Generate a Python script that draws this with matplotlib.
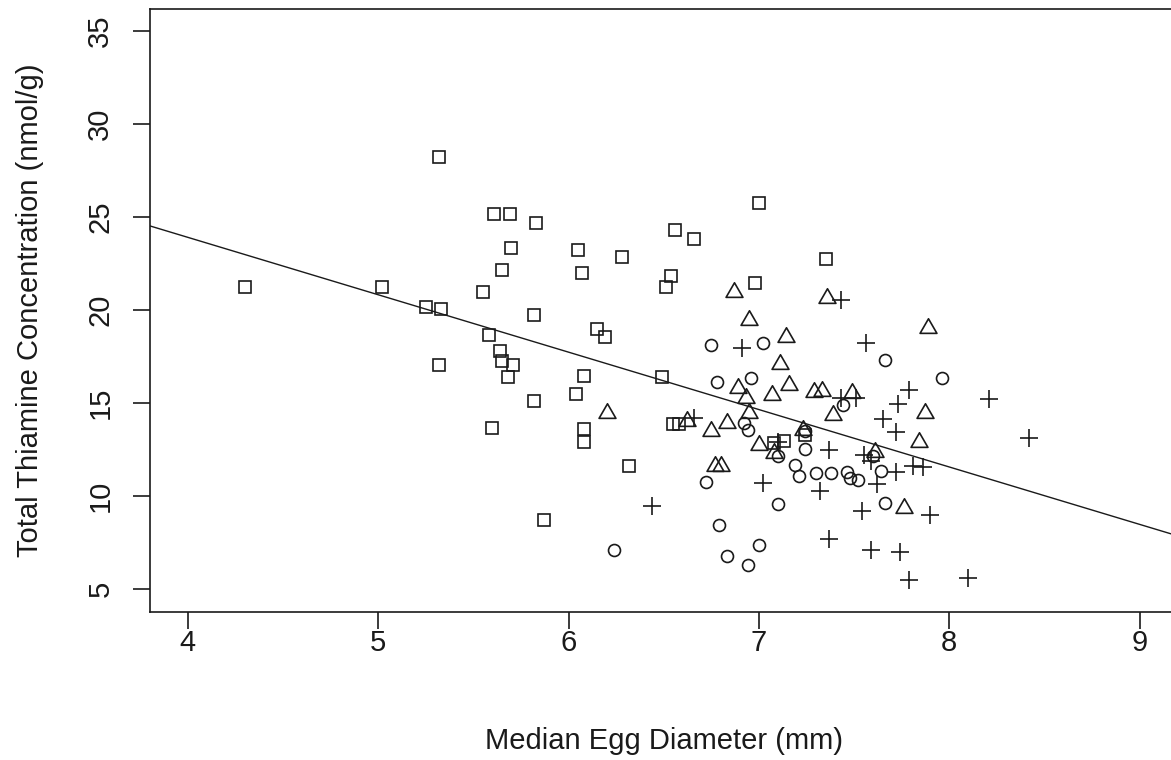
import matplotlib
matplotlib.use("Agg")
import matplotlib.pyplot as plt
from matplotlib.path import Path

# ---------------- data ----------------
sq_x = [4.30, 5.02, 5.25, 5.33, 5.32, 5.32, 5.55, 5.61, 5.69, 5.83, 5.70, 5.65,
        6.05, 6.07, 6.28, 5.82, 6.15, 6.19, 5.58, 5.64, 5.65, 5.71, 5.68, 6.08,
        6.04, 5.82, 5.60, 6.08, 6.08, 6.32, 5.87, 6.56, 6.66, 6.54, 6.51, 6.49,
        6.55, 6.58, 7.00, 6.98, 7.35, 7.08, 7.13, 7.24]
sq_y = [21.25, 21.25, 20.16, 20.06, 28.20, 17.06, 20.95, 25.18, 25.18, 24.68, 23.33, 22.13,
        23.24, 22.02, 22.84, 19.75, 18.98, 18.58, 18.68, 17.82, 17.29, 17.06, 16.38, 16.47,
        15.49, 15.09, 13.69, 13.62, 12.91, 11.65, 8.73, 24.32, 23.82, 21.85, 21.25, 16.38,
        13.89, 13.89, 25.75, 21.45, 22.74, 12.87, 12.95, 13.30]

ci_x = [6.75, 7.02, 7.66, 7.96, 6.78, 6.96, 7.44, 6.92, 6.94, 7.24, 7.24, 7.10,
        7.19, 7.21, 7.30, 7.38, 7.46, 7.48, 7.52, 7.60, 7.64, 6.72, 7.10, 7.66,
        6.79, 7.00, 6.83, 6.94, 6.24]
ci_y = [18.11, 18.22, 17.33, 16.35, 16.13, 16.35, 14.91, 13.96, 13.57, 13.48, 12.53, 12.17,
        11.69, 11.06, 11.24, 11.24, 11.29, 10.98, 10.85, 12.14, 11.37, 10.74, 9.58, 9.66,
        8.47, 7.39, 6.80, 6.30, 7.12]

tr_x = [6.20, 6.87, 7.36, 6.95, 7.14, 7.89, 7.11, 6.89, 6.93, 6.95, 7.16, 7.07,
        7.29, 7.33, 7.49, 7.39, 7.87, 6.83, 6.75, 6.62, 7.23, 7.84, 7.00, 7.08,
        6.77, 6.80, 7.61, 7.76]
tr_y = [14.47, 20.96, 20.65, 19.45, 18.57, 19.05, 17.09, 15.81, 15.27, 14.47, 15.96, 15.45,
        15.59, 15.67, 15.54, 14.38, 14.47, 13.96, 13.53, 14.05, 13.57, 12.90, 12.76, 12.32,
        11.64, 11.64, 12.40, 9.36]

pl_x = [6.44, 6.66, 6.91, 7.43, 7.56, 7.79, 7.73, 8.21, 8.42, 7.43, 7.51, 7.65,
        7.72, 7.37, 7.55, 7.59, 7.72, 7.81, 7.86, 7.62, 7.02, 7.32, 7.54, 7.90,
        7.37, 7.59, 7.74, 7.79, 8.10, 7.10]
pl_y = [9.49, 14.20, 17.96, 20.56, 18.21, 15.72, 14.94, 15.22, 13.12, 15.27, 15.27, 14.16,
        13.45, 12.50, 12.23, 11.90, 11.29, 11.60, 11.58, 10.65, 10.69, 10.29, 9.18, 8.97,
        7.70, 7.11, 7.00, 5.49, 5.60, 12.93]

fit_intercept = 36.25
fit_slope = -3.085

x_ticks = [4, 5, 6, 7, 8, 9]
y_ticks = [5, 10, 15, 20, 25, 30, 35]
x_label = "Median Egg Diameter (mm)"
y_label = "Total Thiamine Concentration (nmol/g)"

# ---------------- figure ----------------
plt.rcParams['font.family'] = ['Liberation Sans', 'DejaVu Sans']
W, H = 1171, 760
fig = plt.figure(figsize=(W / 100, H / 100), dpi=100)

left_px, right_px, top_px, bot_px = 149.7, 1177.8, 8.6, 611.6
ax = fig.add_axes([left_px / W, 1 - bot_px / H, (right_px - left_px) / W, (bot_px - top_px) / H])
ax.set_xlim(3.8, 9.2)
ax.set_ylim(3.8, 36.2)

ink = '#1a1a1a'
mew = 1.2
tri = Path([(0, 1.5551), (1.3468, -0.7776), (-1.3468, -0.7776), (0, 1.5551)], closed=True)

ax.plot(sq_x, sq_y, linestyle='none', marker='s', ms=8.8, mfc='none', mec=ink, mew=mew)
ax.plot(ci_x, ci_y, linestyle='none', marker='o', ms=8.6, mfc='none', mec=ink, mew=mew)
ax.plot(tr_x, tr_y, linestyle='none', marker=tri, ms=14.0, mfc='none', mec=ink, mew=mew)
ax.plot(pl_x, pl_y, linestyle='none', marker='+', ms=13.2, mec=ink, mew=mew)

ax.axline((0, fit_intercept), slope=fit_slope, color=ink, lw=1.0)

for s in ['left', 'bottom', 'top', 'right']:
    ax.spines[s].set_linewidth(1.2)
    ax.spines[s].set_color(ink)

ax.set_xticks(x_ticks)
ax.set_xticklabels([str(t) for t in x_ticks])
ax.set_yticks(y_ticks)
ax.set_yticklabels([str(t) for t in y_ticks], rotation=90, va='center')
ax.tick_params(axis='both', direction='out', length=12.5, width=1.2, color=ink,
               labelsize=21, labelcolor=ink)
ax.tick_params(axis='x', pad=0)
ax.tick_params(axis='y', pad=13)

ax.set_xlabel(x_label, fontsize=21, color=ink)
ax.set_ylabel(y_label, fontsize=21, color=ink)
ax.xaxis.set_label_coords(0.5, (bot_px - 727) / (bot_px - top_px))
ax.yaxis.set_label_coords((44 - left_px) / (right_px - left_px), 0.5)

fig.savefig("out.png", dpi=100)
